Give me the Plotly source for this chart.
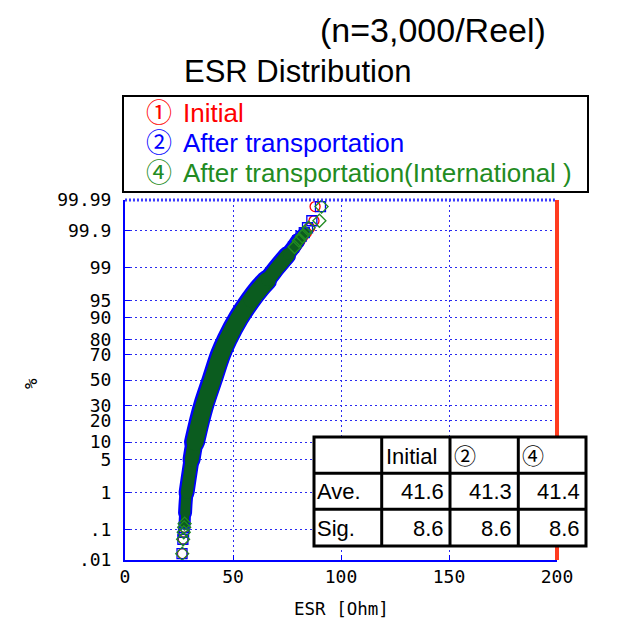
import plotly.graph_objects as go
from statistics import NormalDist

# ---------------- data ----------------
TITLE_TOP = "(n=3,000/Reel)"
TITLE = "ESR Distribution"
X_TITLE = "ESR [Ohm]"
Y_TITLE = "%"

X_TICKS = [0, 50, 100, 150, 200]
Y_TICK_PCT = [0.01, 0.1, 1, 5, 10, 20, 30, 50, 70, 80, 90, 95, 99, 99.9, 99.99]
Y_TICK_TEXT = [".01", ".1", "1", "5", "10", "20", "30", "50", "70", "80", "90", "95", "99", "99.9", "99.99"]

# cumulative percent (plotting position) of the read points
PCT = [0.0167, 0.05, 0.083, 0.117, 0.15, 0.3, 0.6, 1, 2, 5, 10, 20, 30, 50, 70, 80,
       90, 95, 97, 98, 99, 99.5, 99.7, 99.8, 99.85, 99.883, 99.917, 99.95, 99.983]

ESR_INITIAL = [26.6, 27.0, 27.3, 27.5, 27.7, 28.0, 28.3, 28.7, 29.6, 31.0, 32.5, 34.8, 36.8, 40.7, 44.6, 47.7,
               53.0, 58.5, 62.6, 66.0, 71.0, 75.8, 79.0, 81.0, 82.5, 84.0, 85.5, 87.5, 88.0]
ESR_TRANSPORT = [26.4, 26.8, 27.1, 27.4, 27.6, 27.8, 28.1, 28.5, 29.4, 30.8, 32.2, 34.5, 36.4, 40.3, 44.2, 47.3,
                 52.6, 58.0, 62.0, 65.5, 70.3, 75.0, 78.0, 80.0, 81.5, 83.0, 84.5, 86.5, 90.5]
ESR_INTL = [26.5, 26.9, 27.2, 27.4, 27.6, 27.9, 28.2, 28.6, 29.5, 30.9, 32.4, 34.7, 36.6, 40.5, 44.4, 47.5,
            52.8, 58.2, 62.3, 65.8, 70.6, 75.3, 78.5, 80.5, 82.0, 83.5, 85.0, 90.0, 91.0]

SERIES_TAGS = ["①", "②", "④"]
SERIES_NAMES = ["Initial", "After transportation", "After transportation(International )"]

TABLE_HEAD = ["", "Initial", "②", "④"]
TABLE_ROWS = [["Ave.", "41.6", "41.3", "41.4"],
              ["Sig.", "8.6", "8.6", "8.6"]]

X_LIMIT = 200

# ---------------- styling ----------------
W, H = 625, 623
L, R, T, B = 125, 68, 200, 63
PW, PH = W - L - R, H - T - B

RED, BLUE = "#ff0000", "#0000ff"
GREEN_BAND, GREEN = "#0b5c1f", "#228b22"
LIMIT_RED = "#ff3b1f"
GRID = "#2a2af0"
MONO = "DejaVu Sans Mono, Liberation Mono, monospace"
SANS = "Liberation Sans, Arial, Noto Sans CJK JP, sans-serif"
TABLE_FONT = "Liberation Sans, Arial, Noto Sans CJK JP, sans-serif"

nd = NormalDist()


def probit(p):
    return nd.inv_cdf(p / 100.0)


def px(xp):
    return (xp - L) / PW


def py(yp):
    return (H - B - yp) / PH


Z = [probit(p) for p in PCT]
Y_TICK_Z = [probit(p) for p in Y_TICK_PCT]

fig = go.Figure()

series = [
    (ESR_INITIAL, RED, RED, "circle-open", 0),
    (ESR_TRANSPORT, BLUE, BLUE, "square-open", 4),
    (ESR_INTL, GREEN_BAND, GREEN, "diamond-open", 0),
]
# band segments: (start index, end index, base width) - gradually widening to the middle
SEGMENTS = [(4, 8, 8), (5, 10, 10), (7, 11, 12), (9, 12, 14), (10, 20, 17),
            (17, 22, 14), (19, 24, 11), (21, 26, 8)]
TAIL_IDX = list(range(0, 5)) + list(range(22, len(PCT)))

for esr, band_col, mk_col, sym, extra in series:
    for a, b, w in SEGMENTS:
        fig.add_trace(go.Scatter(
            x=esr[a:b], y=Z[a:b], mode="lines",
            line=dict(color=band_col, width=w + extra, shape="spline"),
            hoverinfo="skip", showlegend=False))
    fig.add_trace(go.Scatter(
        x=[esr[i] for i in TAIL_IDX], y=[Z[i] for i in TAIL_IDX], mode="markers",
        marker=dict(symbol=sym, size=10, color=mk_col, line=dict(color=mk_col, width=1.3)),
        hoverinfo="skip", showlegend=False))

shapes = []
# top border (dotted)
shapes.append(dict(type="line", xref="paper", yref="paper", x0=0, x1=1, y0=1, y1=1,
                   line=dict(color="#3c3cff", width=3, dash="2px,2px")))
# limit line at right (x = X_LIMIT is the right edge of the axis)
shapes.append(dict(type="line", xref="paper", yref="paper", x0=X_LIMIT / 200, x1=X_LIMIT / 200, y0=0, y1=1,
                   line=dict(color=LIMIT_RED, width=4), layer="above"))
# legend box
shapes.append(dict(type="rect", xref="paper", yref="paper", x0=px(123), x1=px(588), y0=py(96), y1=py(192),
                   line=dict(color="black", width=2), fillcolor="white"))
# table
tx = [314, 381.7, 450, 518.3, 586]
ty = [437, 473.3, 509.3, 546]
shapes.append(dict(type="rect", xref="paper", yref="paper", x0=px(tx[0]), x1=px(tx[-1]), y0=py(ty[0]),
                   y1=py(ty[-1]), line=dict(color="black", width=3), fillcolor="white", layer="above"))
for xv in tx[1:-1]:
    shapes.append(dict(type="line", xref="paper", yref="paper", x0=px(xv), x1=px(xv), y0=py(ty[0]),
                       y1=py(ty[-1]), line=dict(color="black", width=3), layer="above"))
for yv in ty[1:-1]:
    shapes.append(dict(type="line", xref="paper", yref="paper", x0=px(tx[0]), x1=px(tx[-1]), y0=py(yv),
                       y1=py(yv), line=dict(color="black", width=3), layer="above"))


def add_text(ann, text, x, y, font, xanchor="center", angle=0):
    ann.append(dict(text=text, x=px(x), y=py(y), xref="paper", yref="paper", showarrow=False,
                    xanchor=xanchor, yanchor="middle", textangle=angle, font=font,
                    borderpad=0))


ann = []
add_text(ann, TITLE_TOP, 433, 30, dict(family=SANS, size=34, color="black"))
add_text(ann, TITLE, 297, 72, dict(family=SANS, size=31, color="black"))
leg_cols = [RED, BLUE, GREEN]
leg_y = [113, 143, 173]
for tag, name, col, yv in zip(SERIES_TAGS, SERIES_NAMES, leg_cols, leg_y):
    add_text(ann, tag, 145, yv, dict(family=SANS, size=26, color=col), "left")
    add_text(ann, name, 182, yv, dict(family=SANS, size=26, color=col), "left")
# table text
row_y = [456, 491.5, 528]
tfont = dict(family=TABLE_FONT, size=22, color="black")
for j, h in enumerate(TABLE_HEAD):
    if h:
        add_text(ann, h, tx[j] + 3, row_y[0], tfont, "left")
for r, row in enumerate(TABLE_ROWS):
    for j, cell in enumerate(row):
        if j == 0:
            add_text(ann, cell, tx[0] + 2, row_y[r + 1], tfont, "left")
        else:
            add_text(ann, cell, tx[j + 1] - 5, row_y[r + 1], tfont, "right")
# axis titles
add_text(ann, X_TITLE, 341, 609, dict(family=MONO, size=17.5, color="black"))
add_text(ann, Y_TITLE, 31, 384, dict(family=MONO, size=17.5, color="black"), angle=-90)

eps = 1e-9
fig.update_layout(
    width=W, height=H, margin=dict(l=L, r=R, t=T, b=B, pad=0),
    paper_bgcolor="white", plot_bgcolor="white", showlegend=False,
    shapes=shapes, annotations=ann,
    xaxis=dict(range=[0, 200], tickvals=X_TICKS, ticktext=[str(v) for v in X_TICKS],
               showgrid=True, gridcolor=GRID, griddash="2px,3px", gridwidth=1,
               showline=True, linecolor=BLUE, linewidth=1.5, zeroline=False,
               ticks="inside", ticklen=5, tickcolor=BLUE, tickwidth=1,
               tickfont=dict(family=MONO, size=18, color="black"), ticklabelstandoff=0),
    yaxis=dict(range=[Y_TICK_Z[0] - eps, Y_TICK_Z[-1] + eps], tickvals=Y_TICK_Z, ticktext=Y_TICK_TEXT,
               showgrid=True, gridcolor=GRID, griddash="2px,3px", gridwidth=1,
               showline=True, linecolor=BLUE, linewidth=2, zeroline=False,
               ticks="inside", ticklen=5, tickcolor=BLUE, tickwidth=1,
               tickfont=dict(family=MONO, size=18, color="black"), ticklabelstandoff=8),
)

POST = ("document.body.style.margin='0';document.body.style.padding='0';"
        "document.querySelectorAll('.scatterlayer .js-line').forEach(function(p){"
        "p.style.strokeLinecap='round';p.style.strokeLinejoin='round';});")
fig.write_html("out.html", config={"displayModeBar": False}, post_script=POST)
